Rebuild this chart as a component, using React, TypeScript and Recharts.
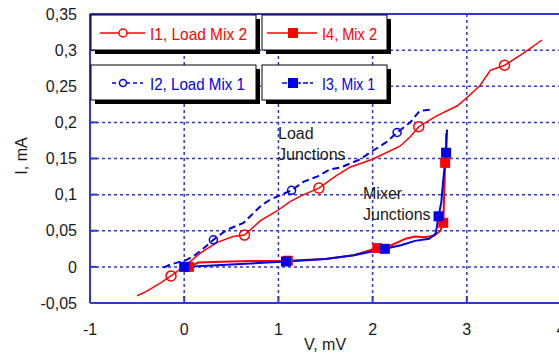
import { LineChart, Line, XAxis, YAxis, CartesianGrid, ReferenceLine, Legend, Customized } from 'recharts';

const RED = '#ff0000';
const BLUE = '#0000e6';
const AXIS = '#3535d2';
const FONT = '"Liberation Sans", Arial, sans-serif';

// I1, Load Mix 2 (red, open circles)
const i1V = [-0.5, -0.4, -0.25, -0.14, -0.05, 0.05, 0.17, 0.35, 0.52, 0.64, 0.81, 0.98, 1.12, 1.25, 1.43, 1.6, 1.76, 2.0, 2.29, 2.4, 2.49, 2.68, 2.9, 3.0, 3.14, 3.25, 3.4, 3.57, 3.8];
const i1I = [-0.04, -0.034, -0.022, -0.0125, -0.004, 0.006, 0.019, 0.034, 0.042, 0.044, 0.064, 0.077, 0.09, 0.099, 0.109, 0.125, 0.138, 0.149, 0.167, 0.18, 0.194, 0.209, 0.223, 0.234, 0.251, 0.272, 0.279, 0.293, 0.314];
const i1Marks = [3, 9, 14, 20, 26];

// I2, Load Mix 1 (blue dashed, open circles)
const i2V = [-0.22, -0.15, 0.03, 0.1, 0.2, 0.31, 0.45, 0.63, 0.81, 0.91, 1.14, 1.27, 1.41, 1.55, 1.66, 1.87, 1.97, 2.15, 2.26, 2.4, 2.5, 2.65];
const i2I = [-0.001, 0.003, 0.01, 0.015, 0.025, 0.0375, 0.051, 0.061, 0.084, 0.093, 0.106, 0.118, 0.125, 0.135, 0.1375, 0.149, 0.158, 0.173, 0.186, 0.2, 0.216, 0.218];
const i2Marks = [5, 10, 18];

// I4, Mix 2 (red, filled squares)
const i4V = [0.05, 0.15, 0.4, 0.7, 1.1, 1.5, 1.8, 2.05, 2.2, 2.35, 2.45, 2.55, 2.65, 2.72, 2.75, 2.76, 2.77, 2.78, 2.78];
const i4I = [0, 0.006, 0.007, 0.008, 0.0085, 0.011, 0.016, 0.026, 0.03, 0.039, 0.042, 0.041, 0.043, 0.05, 0.061, 0.1, 0.144, 0.17, 0.185];
const i4Marks = [0, 4, 7, 14, 16];

// I3, Mix 1 (blue, filled squares)
const i3V = [0, 0.3, 0.6, 1.08, 1.5, 1.8, 2.13, 2.3, 2.45, 2.6, 2.67, 2.7, 2.73, 2.75, 2.77, 2.78, 2.79];
const i3I = [0, 0.002, 0.004, 0.0075, 0.011, 0.016, 0.025, 0.03, 0.036, 0.039, 0.046, 0.07, 0.09, 0.12, 0.145, 0.158, 0.19];
const i3Marks = [0, 3, 6, 11, 15];

const xTicks = [-1, 0, 1, 2, 3, 4];
const yTicks = [-0.05, 0, 0.05, 0.1, 0.15, 0.2, 0.25, 0.3, 0.35];

const toPoints = (v: number[], i: number[], marks: number[]) =>
  v.map((x, k) => ({ v: x, i: i[k], mark: marks.includes(k) }));

const i1Data = toPoints(i1V, i1I, i1Marks);
const i2Data = toPoints(i2V, i2I, i2Marks);
const i3Data = toPoints(i3V, i3I, i3Marks);
const i4Data = toPoints(i4V, i4I, i4Marks);

const markDot = (shape: 'circle' | 'square', color: string, size: number) => (props: any) => {
  const { cx, cy, payload, index } = props;
  if (!payload || !payload.mark || cx == null || cy == null) return <g key={`n-${index}`} />;
  if (shape === 'circle') {
    return <circle key={`c-${index}`} cx={cx} cy={cy} r={size} fill="none" stroke={color} strokeWidth={1.5} />;
  }
  return <rect key={`s-${index}`} x={cx - size} y={cy - size} width={size * 2} height={size * 2} fill={color} />;
};

const LegendBoxes = () => {
  const box = (x: number, y: number, w: number) => (
    <g>
      <rect x={x + 4} y={y + 4} width={w} height={35} fill="#000" />
      <rect x={x} y={y} width={w} height={35} fill="#fff" stroke="#000" strokeWidth={1} />
    </g>
  );
  return (
    <svg width={400} height={110} style={{ display: 'block' }}>
      {box(91, 15, 165)}
      {box(262, 15, 125)}
      {box(91, 65, 165)}
      {box(262, 65, 125)}
      {/* I1 */}
      <line x1={100} y1={33} x2={145} y2={33} stroke={RED} strokeWidth={1.5} />
      <circle cx={123} cy={33} r={4} fill="#fff" stroke={RED} strokeWidth={1.5} />
      <text x={150} y={40} fill={RED} fontSize={17} textLength={97} lengthAdjust="spacingAndGlyphs" fontFamily={FONT}>I1, Load Mix 2</text>
      {/* I4 */}
      <line x1={267} y1={33} x2={317} y2={33} stroke={RED} strokeWidth={1.5} />
      <rect x={288} y={28} width={10} height={10} fill={RED} />
      <text x={322} y={40} fill={RED} fontSize={17} textLength={55} lengthAdjust="spacingAndGlyphs" fontFamily={FONT}>I4, Mix 2</text>
      {/* I2 */}
      <line x1={112} y1={83} x2={143} y2={83} stroke={BLUE} strokeWidth={1.5} strokeDasharray="4 3" />
      <circle cx={123} cy={83} r={3.5} fill="#fff" stroke={BLUE} strokeWidth={1.5} />
      <text x={150} y={90} fill={BLUE} fontSize={17} textLength={95} lengthAdjust="spacingAndGlyphs" fontFamily={FONT}>I2, Load Mix 1</text>
      {/* I3 */}
      <line x1={282} y1={83} x2={313} y2={83} stroke={BLUE} strokeWidth={1.5} strokeDasharray="5 2" />
      <rect x={288} y={78} width={10} height={10} fill={BLUE} />
      <text x={322} y={90} fill={BLUE} fontSize={17} textLength={53} lengthAdjust="spacingAndGlyphs" fontFamily={FONT}>I3, Mix 1</text>
    </svg>
  );
};

const Notes = () => (
  <g fontFamily={FONT} fontSize={16} fill="#1a1a1a">
    <text x={278} y={139}>Load</text>
    <text x={278} y={160}>Junctions</text>
    <text x={363} y={199}>Mixer</text>
    <text x={363} y={220}>Junctions</text>
    <text x={325} y={350} textAnchor="middle">V, mV</text>
    <text x={27} y={156} textAnchor="middle" transform="rotate(-90, 27, 156)">I, mA</text>
  </g>
);

const fmt = (n: number) => String(Math.round(n * 100) / 100).replace('.', ',');

export default function App() {
  return (
    <div style={{ position: 'absolute', left: 0, top: 0, width: 559, height: 356, overflow: 'hidden', background: '#fff', fontFamily: FONT }}>
      <LineChart width={600} height={356} margin={{ top: 14, right: 39, bottom: 0, left: 0 }}>
        <CartesianGrid stroke={AXIS} strokeWidth={1.5} strokeDasharray="3 3" />
        <XAxis
          type="number"
          dataKey="v"
          domain={[-1, 4]}
          ticks={xTicks}
          allowDataOverflow
          height={53}
          tickSize={-7}
          tickMargin={28}
          tickLine={{ stroke: AXIS, strokeWidth: 2 }}
          axisLine={{ stroke: AXIS, strokeWidth: 2 }}
          tick={{ fill: '#1a1a1a', fontSize: 16 }}
        />
        <YAxis
          type="number"
          domain={[-0.05, 0.35]}
          ticks={yTicks}
          allowDataOverflow
          width={90}
          tickSize={-7}
          tickMargin={20}
          tickLine={{ stroke: AXIS, strokeWidth: 2 }}
          tickFormatter={fmt}
          axisLine={{ stroke: AXIS, strokeWidth: 2 }}
          tick={{ fill: '#1a1a1a', fontSize: 16 }}
        />
        <ReferenceLine y={0.35} stroke={AXIS} strokeWidth={2} />
        <Line data={i1Data} dataKey="i" type="linear" stroke={RED} strokeWidth={1.5} dot={markDot('circle', RED, 5)} activeDot={false} isAnimationActive={false} />
        <Line data={i2Data} dataKey="i" type="linear" stroke={BLUE} strokeWidth={2} strokeDasharray="7 4" dot={markDot('circle', BLUE, 4)} activeDot={false} isAnimationActive={false} />
        <Line data={i4Data} dataKey="i" type="linear" stroke={RED} strokeWidth={2} dot={markDot('square', RED, 5)} activeDot={false} isAnimationActive={false} />
        <Line data={i3Data} dataKey="i" type="linear" stroke={BLUE} strokeWidth={2} dot={markDot('square', BLUE, 5)} activeDot={false} isAnimationActive={false} />
        <Legend
          layout="horizontal"
          align="center"
          verticalAlign="middle"
          wrapperStyle={{ position: 'absolute', left: 0, top: 0, width: 400, height: 110 }}
          content={() => <LegendBoxes />}
        />
        <Customized component={Notes} />
      </LineChart>
    </div>
  );
}
